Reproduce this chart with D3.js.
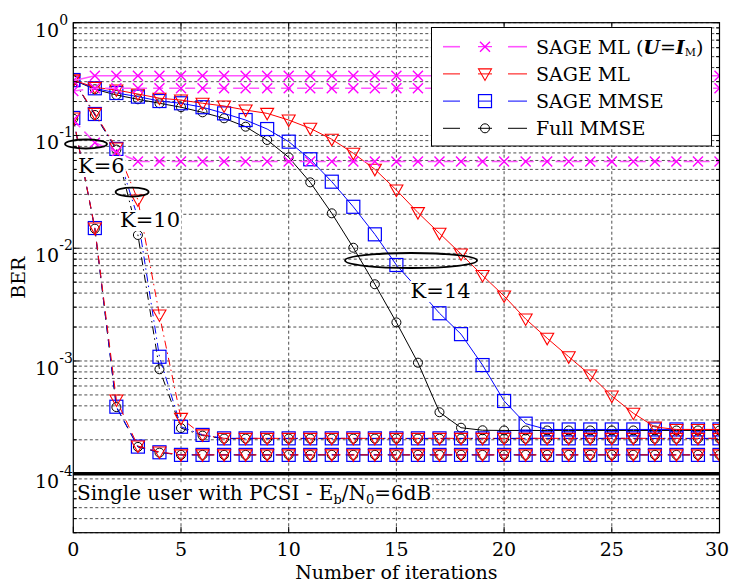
<!DOCTYPE html>
<html>
<head>
<meta charset="utf-8">
<script src="https://cdn.jsdelivr.net/npm/d3@7"></script>
<style>
  body { margin: 0; background: #fff; }
  text { font-family: "DejaVu Serif", "Liberation Serif", serif; fill: #000; }
</style>
</head>
<body>
<div id="chart"></div>
<script>
// iterations on the x axis
const iterations = [0,1,2,3,4,5,6,7,8,9,10,11,12,13,14,15,16,17,18,19,20,21,22,23,24,25,26,27,28,29,30];

// K = 14 (solid)
const ml14   = [0.310,0.267,0.253,0.233,0.214,0.206,0.193,0.1825,0.168,0.157,0.137,0.1157,0.0925,0.0695,0.0501,0.0328,0.0207,0.01356,0.00889,0.00573,0.00377,0.002357,0.00159,0.00109,0.000751,0.000489,0.000344,0.00026,0.000247,0.000247,0.000247];
const mmse14 = [0.310,0.262,0.238,0.221,0.202,0.193,0.178,0.157,0.137,0.114,0.0881,0.0615,0.0389,0.0233,0.01328,0.0071,0.00435,0.00265,0.00173,0.00092,0.000442,0.000278,0.000247,0.000247,0.000247,0.000247,0.000247,0.000247,0.000247,0.000247,0.000247];
const full14 = [0.310,0.257,0.2285,0.2093,0.193,0.178,0.1604,0.142,0.1196,0.0912,0.064,0.0384,0.0204,0.0101,0.00479,0.0022,0.000966,0.000351,0.000256,0.000243,0.000242,0.000242,0.000242,0.000242,0.000242,0.000242,0.000242,0.000242,0.000242,0.000242,0.000242];
const mlI14  = [0.306,0.339,0.339,0.339,0.339,0.339,0.339,0.339,0.339,0.339,0.339,0.339,0.339,0.339,0.339,0.339,0.339,0.339,0.339,0.339,0.339,0.339,0.339,0.339,0.339,0.339,0.339,0.339,0.339,0.339,0.339];

// K = 10 (dash-dot)
const ml10   = [0.310,0.157,0.0774,0.0268,0.00256,0.00031,0.000221,0.000206,0.000206,0.000206,0.000206,0.000206,0.000206,0.000206,0.000206,0.000206,0.000206,0.000206,0.000206,0.000206,0.000206,0.000206,0.000206,0.000206,0.000206,0.000206,0.000206,0.000206,0.000206,0.000206,0.000206];
const mmse10 = [0.310,0.155,0.076,0.0185,0.00109,0.000261,0.000221,0.000206,0.000206,0.000206,0.000206,0.000206,0.000206,0.000206,0.000206,0.000206,0.000206,0.000206,0.000206,0.000206,0.000206,0.000206,0.000206,0.000206,0.000206,0.000206,0.000206,0.000206,0.000206,0.000206,0.000206];
const full10 = [0.310,0.152,0.075,0.0131,0.000844,0.000254,0.000218,0.000205,0.000205,0.000205,0.000205,0.000205,0.000205,0.000205,0.000205,0.000205,0.000205,0.000205,0.000205,0.000205,0.000205,0.000205,0.000205,0.000205,0.000205,0.000205,0.000205,0.000205,0.000205,0.000205,0.000205];
const mlI10  = [0.248,0.262,0.262,0.262,0.262,0.262,0.262,0.262,0.262,0.262,0.262,0.262,0.262,0.262,0.262,0.262,0.262,0.262,0.262,0.262,0.262,0.262,0.262,0.262,0.262,0.262,0.262,0.262,0.262,0.262,0.262];

// K = 6 (dashed)
const ml6   = [0.143,0.0151,0.000451,0.000176,0.000156,0.000147,0.000147,0.000147,0.000147,0.000147,0.000147,0.000147,0.000147,0.000147,0.000147,0.000147,0.000147,0.000147,0.000147,0.000147,0.000147,0.000147,0.000147,0.000147,0.000147,0.000147,0.000147,0.000147,0.000147,0.000147,0.000147];
const mmse6 = [0.143,0.0151,0.000393,0.000174,0.000155,0.000147,0.000147,0.000147,0.000147,0.000147,0.000147,0.000147,0.000147,0.000147,0.000147,0.000147,0.000147,0.000147,0.000147,0.000147,0.000147,0.000147,0.000147,0.000147,0.000147,0.000147,0.000147,0.000147,0.000147,0.000147,0.000147];
const full6 = [0.141,0.0149,0.00039,0.000173,0.000154,0.000147,0.000147,0.000147,0.000147,0.000147,0.000147,0.000147,0.000147,0.000147,0.000147,0.000147,0.000147,0.000147,0.000147,0.000147,0.000147,0.000147,0.000147,0.000147,0.000147,0.000147,0.000147,0.000147,0.000147,0.000147,0.000147];
const mlI6  = [0.137,0.0863,0.0713,0.0588,0.0588,0.0588,0.0588,0.0588,0.0588,0.0588,0.0588,0.0588,0.0588,0.0588,0.0588,0.0588,0.0588,0.0588,0.0588,0.0588,0.0588,0.0588,0.0588,0.0588,0.0588,0.0588,0.0588,0.0588,0.0588,0.0588,0.0588];

// single user bound
const singleUser = 1e-4;

const xTicks = [0,5,10,15,20,25,30];
const yTicks = [1,1e-1,1e-2,1e-3,1e-4];

const W = 730, H = 583;
const margin = {top: 22.7, right: 10.5, bottom: 50.3, left: 73.3};

const svg = d3.select('#chart').append('svg')
  .attr('width', W).attr('height', H);

const x = d3.scaleLinear().domain([0, 30]).range([margin.left, W - margin.right]);
const y = d3.scaleLog().domain([3e-5, 1]).range([H - margin.bottom, margin.top]);

const [x0, x1] = x.range();
const [y0, y1] = y.range();

svg.append('defs').append('clipPath').attr('id', 'plotclip')
  .append('rect').attr('x', x0).attr('y', y1).attr('width', x1 - x0).attr('height', y0 - y1);

// grid
const minorY = [];
for (let e = -5; e <= 0; e++) {
  for (let m = 1; m <= 9; m++) {
    const v = m * Math.pow(10, e);
    if (v >= 3e-5 && v <= 1) minorY.push(v);
  }
}
const grid = svg.append('g');
grid.selectAll('.gy').data(minorY).join('line')
  .attr('x1', x0).attr('x2', x1)
  .attr('y1', d => y(d)).attr('y2', d => y(d))
  .attr('stroke', '#222').attr('stroke-width', 0.8).attr('stroke-dasharray', '3,2.5');
grid.selectAll('.gx').data(xTicks.slice(1, -1)).join('line')
  .attr('y1', y1).attr('y2', y0)
  .attr('x1', d => x(d)).attr('x2', d => x(d))
  .attr('stroke', '#222').attr('stroke-width', 0.8).attr('stroke-dasharray', '3,2.5');

// series definitions
const series = [
  {data: full14, color: '#000', sym: 'circle', dash: null},
  {data: full10, color: '#000', sym: 'circle', dash: '8,4,1.5,4'},
  {data: full6,  color: '#000', sym: 'circle', dash: '8,6'},
  {data: mmse14, color: '#0000ff', sym: 'square', dash: null},
  {data: mmse10, color: '#0000ff', sym: 'square', dash: '8,4,1.5,4'},
  {data: mmse6,  color: '#0000ff', sym: 'square', dash: '8,6'},
  {data: ml14,   color: '#ff0000', sym: 'tri', dash: null},
  {data: ml10,   color: '#ff0000', sym: 'tri', dash: '8,4,1.5,4'},
  {data: ml6,    color: '#ff0000', sym: 'tri', dash: '8,6'},
  {data: mlI14,  color: '#ff00ff', sym: 'cross', dash: null},
  {data: mlI10,  color: '#ff00ff', sym: 'cross', dash: '10,6'},
  {data: mlI6,   color: '#ff00ff', sym: 'cross', dash: '10,6'}
];

function drawSymbol(g, sym, cx, cy, color) {
  if (sym === 'circle') {
    g.append('circle').attr('cx', cx).attr('cy', cy).attr('r', 4.5)
      .attr('fill', 'none').attr('stroke', color).attr('stroke-width', 1);
  } else if (sym === 'square') {
    g.append('rect').attr('x', cx - 6.5).attr('y', cy - 6.5).attr('width', 13).attr('height', 13)
      .attr('fill', 'none').attr('stroke', color).attr('stroke-width', 1.2);
  } else if (sym === 'tri') {
    g.append('path').attr('d', `M${cx - 6.5},${cy - 5}L${cx + 6.5},${cy - 5}L${cx},${cy + 6.5}Z`)
      .attr('fill', 'none').attr('stroke', color).attr('stroke-width', 1.1);
  } else {
    g.append('path').attr('d', `M${cx - 5},${cy - 5}L${cx + 5},${cy + 5}M${cx - 5},${cy + 5}L${cx + 5},${cy - 5}`)
      .attr('fill', 'none').attr('stroke', color).attr('stroke-width', 1.4);
  }
}

const plot = svg.append('g').attr('clip-path', 'url(#plotclip)');
const line = d3.line().x((d, i) => x(iterations[i])).y(d => y(d));

series.forEach(s => {
  const isM = s.sym === 'cross';
  plot.append('path').datum(s.data)
    .attr('d', line)
    .attr('fill', 'none')
    .attr('stroke', isM ? '#ff55ff' : s.color)
    .attr('stroke-width', isM ? 1.6 : 1)
    .attr('stroke-dasharray', s.dash);
  const mg = plot.append('g');
  s.data.forEach((v, i) => drawSymbol(mg, s.sym, x(iterations[i]), y(v), s.color));
});

// single user bound line
plot.append('line')
  .attr('x1', x0).attr('x2', x1)
  .attr('y1', y(singleUser)).attr('y2', y(singleUser))
  .attr('stroke', '#000').attr('stroke-width', 3.5);

// label helper with white background
function label(tx, ty, parts, size) {
  const t = svg.append('text').attr('x', x(tx)).attr('y', y(ty)).attr('font-size', size);
  parts(t);
  const bb = t.node().getBBox();
  svg.insert('rect', () => t.node())
    .attr('x', bb.x - 1).attr('y', bb.y + 2).attr('width', bb.width + 2).attr('height', bb.height - 3)
    .attr('fill', '#fff');
  return t;
}

label(0.17, 5.85e-5, t => {
  t.append('tspan').text('Single user with PCSI - E');
  t.append('tspan').attr('font-size', 13).attr('dy', 4).text('b');
  t.append('tspan').attr('dy', -4).text('/N');
  t.append('tspan').attr('font-size', 13).attr('dy', 4).text('0');
  t.append('tspan').attr('dy', -4).text('=6dB');
}, 20);

// K annotations
const ellipses = [
  {cx: 0.59, cy: 0.084, rx: 21, ry: 4.5},
  {cx: 2.73, cy: 0.0315, rx: 16.5, ry: 4.5},
  {cx: 15.68, cy: 0.00778, rx: 66, ry: 7.5}
];
ellipses.forEach(e => {
  svg.append('ellipse').attr('cx', x(e.cx)).attr('cy', y(e.cy))
    .attr('rx', e.rx).attr('ry', e.ry)
    .attr('fill', 'none').attr('stroke', '#000').attr('stroke-width', 1.8);
});
label(0.22, 0.0464, t => t.text('K=6'), 21);
label(2.17, 0.0154, t => t.text('K=10'), 21);
label(15.66, 0.00362, t => t.text('K=14'), 21);

// axes box and ticks
svg.append('rect').attr('x', x0).attr('y', y1).attr('width', x1 - x0).attr('height', y0 - y1)
  .attr('fill', 'none').attr('stroke', '#000').attr('stroke-width', 1.2);

const ticks = svg.append('g').attr('stroke', '#000').attr('stroke-width', 1);
xTicks.forEach(v => {
  ticks.append('line').attr('x1', x(v)).attr('x2', x(v)).attr('y1', y0).attr('y2', y0 - 6);
  ticks.append('line').attr('x1', x(v)).attr('x2', x(v)).attr('y1', y1).attr('y2', y1 + 6);
});
minorY.forEach(v => {
  const len = yTicks.includes(v) ? 6 : 3.5;
  ticks.append('line').attr('y1', y(v)).attr('y2', y(v)).attr('x1', x0).attr('x2', x0 + len);
  ticks.append('line').attr('y1', y(v)).attr('y2', y(v)).attr('x1', x1).attr('x2', x1 - len);
});

svg.selectAll('.xl').data(xTicks).join('text')
  .attr('x', d => Math.min(x(d), W - 13)).attr('y', y0 + 23)
  .attr('text-anchor', 'middle').attr('font-size', 19)
  .text(d => d);

yTicks.forEach(v => {
  const e = Math.round(Math.log10(v));
  const t = svg.append('text').attr('x', 35).attr('y', y(v) + 14).attr('font-size', 19);
  t.append('tspan').text('10');
  t.append('tspan').attr('font-size', 14).attr('dy', -12).text(e === 0 ? '0' : String(e));
});

svg.append('text').attr('x', (x0 + x1) / 2).attr('y', 579)
  .attr('text-anchor', 'middle').attr('font-size', 19).text('Number of iterations');
svg.append('text').attr('transform', `translate(25,${(y0 + y1) / 2}) rotate(-90)`)
  .attr('text-anchor', 'middle').attr('font-size', 19).text('BER');

// legend
const legendItems = [
  {sym: 'cross', color: '#ff00ff'},
  {sym: 'tri', color: '#ff0000'},
  {sym: 'square', color: '#0000ff'},
  {sym: 'circle', color: '#000'}
];
const lg = svg.append('g');
lg.append('rect').attr('x', 431.5).attr('y', 27.5).attr('width', 280).attr('height', 118.5)
  .attr('fill', '#fff').attr('stroke', '#000').attr('stroke-width', 1);
legendItems.forEach((it, i) => {
  const cy = 46.7 + i * 27.2;
  const lc = it.sym === 'cross' ? '#ff55ff' : it.color;
  lg.append('line').attr('x1', 443).attr('x2', 460).attr('y1', cy).attr('y2', cy)
    .attr('stroke', lc).attr('stroke-width', it.sym === 'cross' ? 1.6 : 1);
  lg.append('line').attr('x1', 508).attr('x2', 527).attr('y1', cy).attr('y2', cy)
    .attr('stroke', lc).attr('stroke-width', it.sym === 'cross' ? 1.6 : 1);
  lg.append('line').attr('x1', 478).attr('x2', 492).attr('y1', cy).attr('y2', cy)
    .attr('stroke', it.color).attr('stroke-width', 1);
  drawSymbol(lg, it.sym, 485, cy, it.color);
  const t = lg.append('text').attr('x', 536).attr('y', cy + 7).attr('font-size', 19);
  if (i === 0) {
    t.append('tspan').text('SAGE ML (');
    t.append('tspan').attr('font-weight', 'bold').attr('font-style', 'italic').text('U');
    t.append('tspan').text('=');
    t.append('tspan').attr('font-weight', 'bold').attr('font-style', 'italic').text('I');
    t.append('tspan').attr('font-size', 11).attr('dy', 2).text('M');
    t.append('tspan').attr('dy', -2).text(')');
  } else {
    t.text(['', 'SAGE ML', 'SAGE MMSE', 'Full MMSE'][i]);
  }
});
</script>
</body>
</html>
